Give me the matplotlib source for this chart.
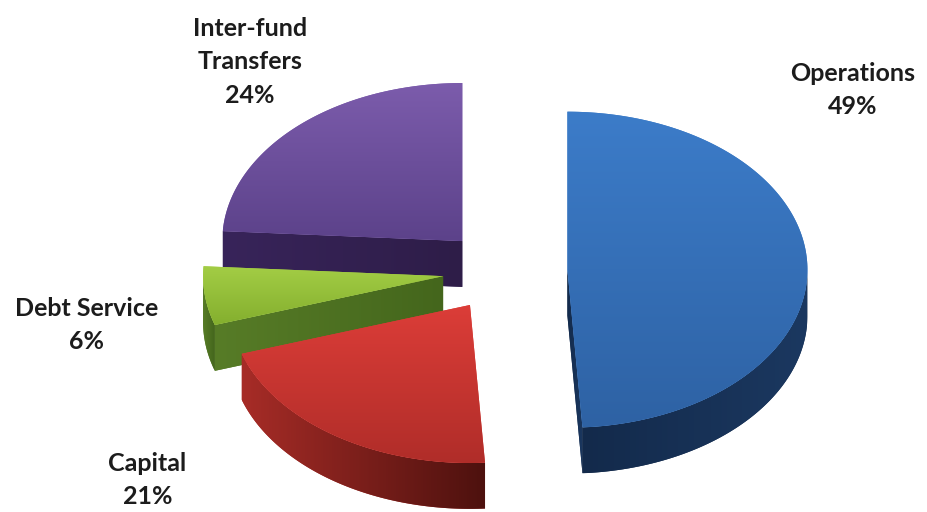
import numpy as np
import matplotlib
matplotlib.use("Agg")
import matplotlib.pyplot as plt
from matplotlib.patches import Polygon
from matplotlib.colors import LinearSegmentedColormap

# Budget allocation shares (clockwise from 12 o'clock)
categories = ["Operations", "Capital", "Debt Service", "Inter-fund\nTransfers"]
shares = [49, 21, 6, 24]
pct_labels = ["49%", "21%", "6%", "24%"]

# Styling: top-face gradient (upper, lower) and side-wall gradient (left, right)
top_colors = [("#3c7cc9", "#2e62a4"), ("#dc3d38", "#b02d29"),
              ("#a3cd45", "#84af2e"), ("#7c5cac", "#5c428a")]
side_colors = [("#132a4b", "#1b3860"), ("#a72c27", "#4d110e"),
               ("#577c27", "#44661c"), ("#38245a", "#2e1d48")]
label_pos = [(1.45, 1.145), (-1.49, -1.322), (-1.742, -0.342), (-1.063, 1.323)]

fig = plt.figure(figsize=(9.27, 5.12), dpi=100)
ax = fig.add_axes([0, 0, 1, 1])
ax.axis("off")

explode = 0.26
depth = 0.29
n_arc = 200


def gradient_fill(xy, c0, c1, vertical, z):
    patch = Polygon(xy, closed=True, facecolor=c0, edgecolor="none", zorder=z)
    ax.add_patch(patch)
    xmin, ymin = xy.min(axis=0)
    xmax, ymax = xy.max(axis=0)
    g = np.linspace(0, 1, 256)
    img = g[:, None] if vertical else g[None, :]
    cmap = LinearSegmentedColormap.from_list("g", [c0, c1])
    im = ax.imshow(img, cmap=cmap, extent=[xmin, xmax, ymin, ymax],
                   origin="upper", aspect="auto", zorder=z + 0.01,
                   interpolation="bilinear")
    im.set_clip_path(patch)


# Slice angle ranges (degrees), clockwise from 90
slices = []
end = 90.0
for i, s in enumerate(shares):
    start = end - 360.0 * s / 100.0
    mid = np.radians((start + end) / 2)
    c = np.array([explode * np.cos(mid), explode * np.sin(mid)])
    slices.append((i, start, end, c))
    end = start

# Painter's order: farthest (highest centre) first
order = sorted(slices, key=lambda t: -t[3][1])
for rank, (i, t0, t1, c) in enumerate(order):
    z = 10 + rank * 5
    down = np.array([0, -depth])
    # Radial cut faces facing the viewer
    for t, nrm in ((t0, t0 - 90), (t1, t1 + 90)):
        if np.sin(np.radians(nrm)) < -1e-6:
            p = c + [np.cos(np.radians(t)), np.sin(np.radians(t))]
            face = np.array([c, p, p + down, c + down])
            gradient_fill(face, side_colors[i][0], side_colors[i][1], False, z)
    # Outer wall on the front half
    a0, a1 = max(t0, -180.0), min(t1, 0.0)
    if a1 > a0:
        tt = np.radians(np.linspace(a0, a1, n_arc))
        rim = c + np.column_stack([np.cos(tt), np.sin(tt)])
        wall = np.vstack([rim, (rim + down)[::-1]])
        gradient_fill(wall, side_colors[i][0], side_colors[i][1], False, z + 1)
    # Top face
    tt = np.radians(np.linspace(t0, t1, n_arc))
    top = np.vstack([c, c + np.column_stack([np.cos(tt), np.sin(tt)])])
    gradient_fill(top, top_colors[i][0], top_colors[i][1], True, z + 2)

for name, pct, (lx, ly) in zip(categories, pct_labels, label_pos):
    ax.text(lx, ly, f"{name}\n{pct}", ha="center", va="center",
            fontsize=18, family="Lato", fontweight="bold",
            color="#1c1c1c", linespacing=1.55, zorder=50)

ax.set_xlim(-2.104, 1.758)
ax.set_ylim(-1.525, 1.715)
fig.savefig("out.png", dpi=100, facecolor="white")
